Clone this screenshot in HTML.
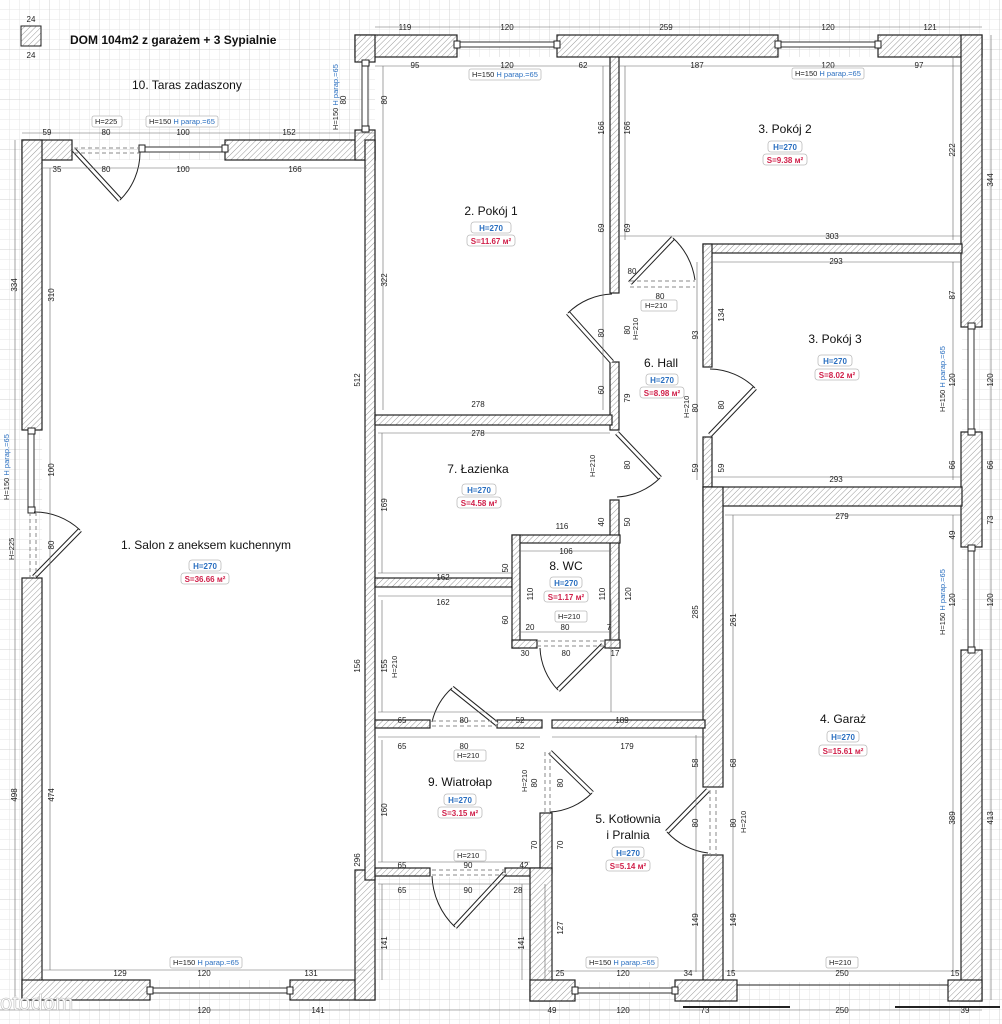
<!DOCTYPE html>
<html><head><meta charset="utf-8">
<style>
html,body{margin:0;padding:0;background:#fff;}
svg{display:block;}
text{font-family:"Liberation Sans",sans-serif;}
.d{font-size:8px;fill:#222;text-anchor:middle;}
.rn{font-size:12px;fill:#111;text-anchor:middle;}
.h{font-size:8px;fill:#2a6fc0;text-anchor:middle;font-weight:bold;}
.s{font-size:8px;fill:#d0204a;text-anchor:middle;font-weight:bold;}
.tag{font-size:7.5px;fill:#222;}
.blue{fill:#2a6fc0;}
</style></head><body>
<svg width="1002" height="1024" viewBox="0 0 1002 1024" xmlns="http://www.w3.org/2000/svg">
<defs>
<pattern id="g" width="10" height="10" patternUnits="userSpaceOnUse"><path d="M10 0V10M0 10H10" stroke="#e6e6e6" stroke-width="1" fill="none"/></pattern>
<pattern id="G" width="50" height="50" patternUnits="userSpaceOnUse"><path d="M50 0V50M0 50H50" stroke="#d2d2d2" stroke-width="1" fill="none"/></pattern>
<pattern id="hh" width="4" height="4" patternUnits="userSpaceOnUse" patternTransform="rotate(45)"><rect width="4" height="4" fill="#fff"/><line x1="0" y1="0" x2="0" y2="4" stroke="#999" stroke-width="1"/></pattern>
</defs>
<rect width="1002" height="1024" fill="#fff"/>
<rect width="1002" height="1024" fill="url(#g)"/>
<rect width="1002" height="1024" fill="url(#G)"/>

<!-- room interiors -->
<g fill="#fff">
<rect x="42" y="160" width="325" height="820"/>
<rect x="375" y="57" width="587" height="820"/>
<rect x="548" y="870" width="414" height="112"/>
</g>

<!-- walls -->
<g fill="url(#hh)" stroke="#222" stroke-width="1.2">
<!-- salon exterior -->
<rect x="22" y="140" width="50" height="20"/>
<rect x="225" y="140" width="150" height="20"/>
<rect x="22" y="140" width="20" height="290"/>
<rect x="22" y="578" width="20" height="422"/>
<rect x="22" y="980" width="128" height="20"/>
<rect x="290" y="980" width="85" height="20"/>
<rect x="355" y="870" width="20" height="130"/>
<rect x="355" y="130" width="20" height="30"/>
<rect x="365" y="140" width="10" height="740"/>
<!-- top -->
<rect x="355" y="35" width="102" height="22"/>
<rect x="355" y="35" width="20" height="27"/>
<rect x="557" y="35" width="221" height="22"/>
<rect x="878" y="35" width="104" height="22"/>
<!-- right -->
<rect x="961" y="35" width="21" height="292"/>
<rect x="961" y="432" width="21" height="115"/>
<rect x="961" y="650" width="21" height="351"/>
<!-- interior -->
<rect x="610" y="57" width="9" height="236"/>
<rect x="610" y="362" width="9" height="68"/>
<rect x="610" y="500" width="9" height="148"/>
<rect x="375" y="415" width="237" height="10"/>
<rect x="703" y="244" width="259" height="9"/>
<rect x="703" y="244" width="9" height="123"/>
<rect x="703" y="437" width="9" height="50"/>
<rect x="703" y="487" width="259" height="19"/>
<rect x="703" y="487" width="20" height="300"/>
<rect x="703" y="855" width="20" height="146"/>
<!-- lazienka/wc -->
<rect x="375" y="578" width="137" height="9"/>
<rect x="512" y="535" width="108" height="8"/>
<rect x="512" y="535" width="8" height="113"/>
<rect x="512" y="640" width="25" height="8"/>
<rect x="605" y="640" width="15" height="8"/>
<!-- hall bottom -->
<rect x="375" y="720" width="55" height="8"/>
<rect x="497" y="720" width="45" height="8"/>
<rect x="552" y="720" width="153" height="8"/>
<!-- wiatrolap -->
<rect x="375" y="868" width="55" height="8"/>
<rect x="505" y="868" width="40" height="8"/>
<rect x="540" y="813" width="12" height="60"/>
<rect x="530" y="868" width="22" height="133"/>
<rect x="530" y="980" width="45" height="21"/>
<rect x="675" y="980" width="62" height="21"/>
<rect x="948" y="980" width="34" height="21"/>
</g>

<!-- windows -->
<g fill="#fff" stroke="#333" stroke-width="1">
<rect x="142" y="147" width="83" height="5"/>
<rect x="28" y="432" width="6" height="78"/>
<rect x="150" y="988" width="140" height="5"/>
<rect x="362" y="62" width="6" height="68"/>
<rect x="457" y="42" width="100" height="5"/>
<rect x="778" y="42" width="100" height="5"/>
<rect x="968" y="327" width="6" height="105"/>
<rect x="968" y="547" width="6" height="103"/>
<rect x="575" y="988" width="100" height="5"/>
</g>
<g fill="#fff" stroke="#222" stroke-width="1">
<rect x="139" y="145" width="6" height="7"/><rect x="222" y="145" width="6" height="7"/>
<rect x="28" y="428" width="7" height="6"/><rect x="28" y="507" width="7" height="6"/>
<rect x="147" y="987" width="6" height="7"/><rect x="287" y="987" width="6" height="7"/>
<rect x="362" y="60" width="7" height="6"/><rect x="362" y="126" width="7" height="6"/>
<rect x="454" y="41" width="6" height="7"/><rect x="554" y="41" width="6" height="7"/>
<rect x="775" y="41" width="6" height="7"/><rect x="875" y="41" width="6" height="7"/>
<rect x="968" y="323" width="7" height="6"/><rect x="968" y="429" width="7" height="6"/>
<rect x="968" y="545" width="7" height="6"/><rect x="968" y="647" width="7" height="6"/>
<rect x="572" y="987" width="6" height="7"/><rect x="672" y="987" width="6" height="7"/>
</g>

<!-- doors -->
<g fill="none" stroke="#222" stroke-width="1">
<!-- salon top door -->
<path d="M74 150 L120 200" stroke-width="5"/><path d="M74 150 L120 200" stroke="#fff" stroke-width="3"/>
<path d="M120 200 A67 67 0 0 0 140 152"/>
<path d="M74 148H140M74 153H140" stroke-dasharray="4 3" stroke="#888"/>
<!-- salon left door -->
<path d="M34 577 L80 530" stroke-width="5"/><path d="M34 577 L80 530" stroke="#fff" stroke-width="3"/>
<path d="M34 512 A66 66 0 0 1 80 530"/>
<path d="M30 512V577M36 512V577" stroke-dasharray="4 3" stroke="#888"/>
<!-- pokoj1 door -->
<path d="M612 362 L568 313" stroke-width="5"/><path d="M612 362 L568 313" stroke="#fff" stroke-width="3"/>
<path d="M568 313 A66 66 0 0 1 612 294"/>
<!-- pokoj2 door -->
<path d="M630 283 L673 238" stroke-width="5"/><path d="M630 283 L673 238" stroke="#fff" stroke-width="3"/>
<path d="M673 238 A70 70 0 0 1 695 280"/>
<path d="M630 281H695M630 287H695" stroke-dasharray="4 3" stroke="#888"/>
<!-- lazienka door -->
<path d="M617 433 L660 478" stroke-width="5"/><path d="M617 433 L660 478" stroke="#fff" stroke-width="3"/>
<path d="M660 478 A66 66 0 0 1 617 497"/>
<!-- pokoj3 door -->
<path d="M710 435 L755 388" stroke-width="5"/><path d="M710 435 L755 388" stroke="#fff" stroke-width="3"/>
<path d="M710 369 A66 66 0 0 1 755 388"/>
<!-- wc door -->
<path d="M603 645 L558 690" stroke-width="5"/><path d="M603 645 L558 690" stroke="#fff" stroke-width="3"/>
<path d="M540 648 A64 64 0 0 0 558 690"/>
<path d="M537 641H605M537 646H605" stroke-dasharray="4 3" stroke="#888"/>
<!-- wiatrolap top door -->
<path d="M497 724 L452 688" stroke-width="5"/><path d="M497 724 L452 688" stroke="#fff" stroke-width="3"/>
<path d="M452 688 A66 66 0 0 0 432 722"/>
<path d="M432 721H497M432 726H497" stroke-dasharray="4 3" stroke="#888"/>
<!-- kotlownia door -->
<path d="M550 752 L592 793" stroke-width="5"/><path d="M550 752 L592 793" stroke="#fff" stroke-width="3"/>
<path d="M592 793 A64 64 0 0 1 550 812"/>
<path d="M545 752V813M550 752V813" stroke-dasharray="4 3" stroke="#888"/>
<!-- wiatrolap bottom door -->
<path d="M505 873 L455 927" stroke-width="5"/><path d="M505 873 L455 927" stroke="#fff" stroke-width="3"/>
<path d="M432 876 A74 74 0 0 0 455 927"/>
<path d="M432 870H505M432 875H505" stroke-dasharray="4 3" stroke="#888"/>
<!-- garage side door -->
<path d="M708 790 L667 832" stroke-width="5"/><path d="M708 790 L667 832" stroke="#fff" stroke-width="3"/>
<path d="M667 832 A66 66 0 0 0 708 853"/>
<path d="M710 790V855M716 790V855" stroke-dasharray="4 3" stroke="#888"/>
<!-- garage door -->
<path d="M737 982V1000M948 982V1000M737 985H948"/>
<path d="M683 1007H790M895 1007H1000" stroke-width="2"/>
</g>

<!-- dimension lines (sample) -->
<g stroke="#666" stroke-width="0.6" fill="none">
<path d="M22 133H375M42 168H367M375 27H982M375 66H610M618 66H962M620 236H962M712 262H962M712 477H962M725 515H962M725 971H962M42 970H365M378 433H610M378 573H512M378 596H512M520 551H612M520 632H612M378 712H705M378 737H540M552 737H705M378 862H530M378 884H530M548 971H705M0 1010H982"/>
<path d="M15 140V1000M50 168V970M991 35V1000M953 57V240M953 262V480M953 515V970M383 66V410M603 66V410M625 66V240M382 433V573M382 600V712M382 740V862M382 884V980M522 884V980M545 884V980M696 735V972M733 515V972M611 600V712M697 262V480"/>
</g>

<!-- dimension texts -->
<g class="d">
<text x="31" y="22">24</text><text x="31" y="58">24</text>
<text x="47" y="135">59</text><text x="106" y="135">80</text><text x="183" y="135">100</text><text x="289" y="135">152</text>
<text x="57" y="172">35</text><text x="106" y="172">80</text><text x="183" y="172">100</text><text x="295" y="172">166</text>
<text x="405" y="30">119</text><text x="507" y="30">120</text><text x="666" y="30">259</text><text x="828" y="30">120</text><text x="930" y="30">121</text>
<text x="415" y="68">95</text><text x="507" y="68">120</text><text x="583" y="68">62</text><text x="697" y="68">187</text><text x="828" y="68">120</text><text x="919" y="68">97</text>
<text x="832" y="239">303</text><text x="836" y="264">293</text><text x="836" y="482">293</text><text x="842" y="519">279</text>
<text x="478" y="407">278</text><text x="478" y="436">278</text>
<text x="443" y="580">162</text><text x="443" y="605">162</text><text x="562" y="529">116</text><text x="566" y="554">106</text>
<text x="402" y="723">65</text><text x="464" y="723">80</text><text x="520" y="723">52</text><text x="622" y="723">189</text>
<text x="402" y="749">65</text><text x="464" y="749">80</text><text x="520" y="749">52</text><text x="627" y="749">179</text>
<text x="402" y="868">65</text><text x="468" y="868">90</text><text x="524" y="868">42</text>
<text x="402" y="893">65</text><text x="468" y="893">90</text><text x="518" y="893">28</text>
<text x="120" y="976">129</text><text x="204" y="976">120</text><text x="311" y="976">131</text>
<text x="204" y="1013">120</text><text x="318" y="1013">141</text>
<text x="560" y="976">25</text><text x="623" y="976">120</text><text x="688" y="976">34</text><text x="731" y="976">15</text><text x="842" y="976">250</text><text x="955" y="976">15</text>
<text x="552" y="1013">49</text><text x="623" y="1013">120</text><text x="705" y="1013">73</text><text x="842" y="1013">250</text><text x="965" y="1013">39</text>
<text x="632" y="274">80</text><text x="660" y="299">80</text><text x="565" y="630">80</text><text x="566" y="656">80</text><text x="530" y="630">20</text><text x="525" y="656">30</text><text x="609" y="630">7</text><text x="615" y="656">17</text>
</g>
<g class="d">
<text transform="translate(17,285) rotate(-90)">334</text><text transform="translate(54,295) rotate(-90)">310</text>
<text transform="translate(54,470) rotate(-90)">100</text><text transform="translate(54,545) rotate(-90)">80</text>
<text transform="translate(17,795) rotate(-90)">498</text><text transform="translate(54,795) rotate(-90)">474</text>
<text transform="translate(387,280) rotate(-90)">322</text><text transform="translate(360,380) rotate(-90)">512</text>
<text transform="translate(346,100) rotate(-90)">80</text><text transform="translate(387,100) rotate(-90)">80</text>
<text transform="translate(604,128) rotate(-90)">166</text><text transform="translate(630,128) rotate(-90)">166</text>
<text transform="translate(604,228) rotate(-90)">69</text><text transform="translate(630,228) rotate(-90)">69</text>
<text transform="translate(604,333) rotate(-90)">80</text><text transform="translate(630,330) rotate(-90)">80</text>
<text transform="translate(604,390) rotate(-90)">60</text><text transform="translate(630,398) rotate(-90)">79</text>
<text transform="translate(630,465) rotate(-90)">80</text><text transform="translate(604,522) rotate(-90)">40</text><text transform="translate(630,522) rotate(-90)">50</text>
<text transform="translate(387,505) rotate(-90)">169</text>
<text transform="translate(508,568) rotate(-90)">50</text><text transform="translate(508,620) rotate(-90)">60</text>
<text transform="translate(533,594) rotate(-90)">110</text><text transform="translate(605,594) rotate(-90)">110</text><text transform="translate(631,594) rotate(-90)">120</text>
<text transform="translate(360,666) rotate(-90)">156</text><text transform="translate(387,666) rotate(-90)">155</text>
<text transform="translate(698,612) rotate(-90)">285</text><text transform="translate(736,620) rotate(-90)">261</text>
<text transform="translate(698,335) rotate(-90)">93</text><text transform="translate(724,315) rotate(-90)">134</text>
<text transform="translate(698,468) rotate(-90)">59</text><text transform="translate(724,468) rotate(-90)">59</text>
<text transform="translate(698,408) rotate(-90)">80</text><text transform="translate(724,405) rotate(-90)">80</text>
<text transform="translate(955,150) rotate(-90)">222</text><text transform="translate(993,180) rotate(-90)">344</text>
<text transform="translate(955,295) rotate(-90)">87</text><text transform="translate(955,380) rotate(-90)">120</text><text transform="translate(993,380) rotate(-90)">120</text>
<text transform="translate(955,465) rotate(-90)">66</text><text transform="translate(993,465) rotate(-90)">66</text>
<text transform="translate(955,535) rotate(-90)">49</text><text transform="translate(993,520) rotate(-90)">73</text>
<text transform="translate(955,600) rotate(-90)">120</text><text transform="translate(993,600) rotate(-90)">120</text>
<text transform="translate(955,818) rotate(-90)">389</text><text transform="translate(993,818) rotate(-90)">413</text>
<text transform="translate(698,763) rotate(-90)">58</text><text transform="translate(736,763) rotate(-90)">68</text>
<text transform="translate(698,823) rotate(-90)">80</text><text transform="translate(736,823) rotate(-90)">80</text>
<text transform="translate(698,920) rotate(-90)">149</text><text transform="translate(736,920) rotate(-90)">149</text>
<text transform="translate(387,810) rotate(-90)">160</text><text transform="translate(360,860) rotate(-90)">296</text>
<text transform="translate(537,783) rotate(-90)">80</text><text transform="translate(563,783) rotate(-90)">80</text>
<text transform="translate(537,845) rotate(-90)">70</text><text transform="translate(563,845) rotate(-90)">70</text>
<text transform="translate(387,943) rotate(-90)">141</text><text transform="translate(524,943) rotate(-90)">141</text><text transform="translate(563,928) rotate(-90)">127</text>
</g>

<!-- legend -->
<rect x="21" y="26" width="20" height="20" fill="url(#hh)" stroke="#222"/>
<text x="70" y="44" style="font-size:12px;font-weight:bold;fill:#111">DOM 104m2 z garażem + 3 Sypialnie</text>
<text x="132" y="89" style="font-size:12px;fill:#111">10. Taras zadaszony</text>

<!-- tags -->
<g fill="#fff" stroke="#bbb" stroke-width="0.8">
<rect x="92" y="116" width="30" height="11" rx="2"/>
<rect x="146" y="116" width="72" height="11" rx="2"/>
<rect x="469" y="69" width="72" height="11" rx="2"/>
<rect x="792" y="68" width="72" height="11" rx="2"/>
<rect x="641" y="300" width="36" height="11" rx="2"/>
<rect x="555" y="611" width="32" height="11" rx="2"/>
<rect x="454" y="750" width="32" height="11" rx="2"/>
<rect x="454" y="850" width="32" height="11" rx="2"/>
<rect x="586" y="957" width="72" height="11" rx="2"/>
<rect x="826" y="957" width="32" height="11" rx="2"/>
<rect x="170" y="957" width="72" height="11" rx="2"/>
</g>
<g class="tag">
<text x="95" y="124">H=225</text>
<text x="149" y="124">H=150 <tspan class="blue">H parap.=65</tspan></text>
<text x="472" y="77">H=150 <tspan class="blue">H parap.=65</tspan></text>
<text x="795" y="76">H=150 <tspan class="blue">H parap.=65</tspan></text>
<text x="645" y="308">H=210</text>
<text x="558" y="619">H=210</text>
<text x="457" y="758">H=210</text>
<text x="457" y="858">H=210</text>
<text x="589" y="965">H=150 <tspan class="blue">H parap.=65</tspan></text>
<text x="829" y="965">H=210</text>
<text x="173" y="965">H=150 <tspan class="blue">H parap.=65</tspan></text>
<text transform="translate(338,130) rotate(-90)">H=150 <tspan class="blue">H parap.=65</tspan></text>
<text transform="translate(9,500) rotate(-90)">H=150 <tspan class="blue">H parap.=65</tspan></text>
<text transform="translate(14,560) rotate(-90)">H=225</text>
<text transform="translate(945,412) rotate(-90)">H=150 <tspan class="blue">H parap.=65</tspan></text>
<text transform="translate(945,635) rotate(-90)">H=150 <tspan class="blue">H parap.=65</tspan></text>
<text transform="translate(638,340) rotate(-90)">H=210</text>
<text transform="translate(595,477) rotate(-90)">H=210</text>
<text transform="translate(689,418) rotate(-90)">H=210</text>
<text transform="translate(397,678) rotate(-90)">H=210</text>
<text transform="translate(527,792) rotate(-90)">H=210</text>
<text transform="translate(746,833) rotate(-90)">H=210</text>
</g>

<!-- room labels -->
<g>
<text class="rn" x="491" y="215">2. Pokój 1</text>
<rect x="471" y="222" width="40" height="11" rx="3" fill="#fff" stroke="#bbb" stroke-width="0.8"/><text class="h" x="491" y="231">H=270</text>
<rect x="467" y="235" width="48" height="11" rx="3" fill="#fff" stroke="#bbb" stroke-width="0.8"/><text class="s" x="491" y="244">S=11.67 м²</text>
<text class="rn" x="785" y="133">3. Pokój 2</text>
<rect x="768" y="141" width="34" height="11" rx="3" fill="#fff" stroke="#bbb" stroke-width="0.8"/><text class="h" x="785" y="150">H=270</text>
<rect x="763" y="154" width="44" height="11" rx="3" fill="#fff" stroke="#bbb" stroke-width="0.8"/><text class="s" x="785" y="163">S=9.38 м²</text>
<text class="rn" x="835" y="343">3. Pokój 3</text>
<rect x="818" y="355" width="34" height="11" rx="3" fill="#fff" stroke="#bbb" stroke-width="0.8"/><text class="h" x="835" y="364">H=270</text>
<rect x="815" y="369" width="44" height="11" rx="3" fill="#fff" stroke="#bbb" stroke-width="0.8"/><text class="s" x="837" y="378">S=8.02 м²</text>
<text class="rn" x="661" y="367">6. Hall</text>
<rect x="646" y="374" width="32" height="11" rx="3" fill="#fff" stroke="#bbb" stroke-width="0.8"/><text class="h" x="662" y="383">H=270</text>
<rect x="640" y="387" width="44" height="11" rx="3" fill="#fff" stroke="#bbb" stroke-width="0.8"/><text class="s" x="662" y="396">S=8.98 м²</text>
<text class="rn" x="478" y="473">7. Łazienka</text>
<rect x="462" y="484" width="34" height="11" rx="3" fill="#fff" stroke="#bbb" stroke-width="0.8"/><text class="h" x="479" y="493">H=270</text>
<rect x="457" y="497" width="44" height="11" rx="3" fill="#fff" stroke="#bbb" stroke-width="0.8"/><text class="s" x="479" y="506">S=4.58 м²</text>
<text class="rn" x="566" y="570">8. WC</text>
<rect x="550" y="577" width="32" height="11" rx="3" fill="#fff" stroke="#bbb" stroke-width="0.8"/><text class="h" x="566" y="586">H=270</text>
<rect x="544" y="591" width="44" height="11" rx="3" fill="#fff" stroke="#bbb" stroke-width="0.8"/><text class="s" x="566" y="600">S=1.17 м²</text>
<text class="rn" x="206" y="549">1. Salon z aneksem kuchennym</text>
<rect x="189" y="560" width="32" height="11" rx="3" fill="#fff" stroke="#bbb" stroke-width="0.8"/><text class="h" x="205" y="569">H=270</text>
<rect x="181" y="573" width="48" height="11" rx="3" fill="#fff" stroke="#bbb" stroke-width="0.8"/><text class="s" x="205" y="582">S=36.66 м²</text>
<text class="rn" x="843" y="723">4. Garaż</text>
<rect x="827" y="731" width="32" height="11" rx="3" fill="#fff" stroke="#bbb" stroke-width="0.8"/><text class="h" x="843" y="740">H=270</text>
<rect x="819" y="745" width="48" height="11" rx="3" fill="#fff" stroke="#bbb" stroke-width="0.8"/><text class="s" x="843" y="754">S=15.61 м²</text>
<text class="rn" x="460" y="786">9. Wiatrołap</text>
<rect x="444" y="794" width="32" height="11" rx="3" fill="#fff" stroke="#bbb" stroke-width="0.8"/><text class="h" x="460" y="803">H=270</text>
<rect x="438" y="807" width="44" height="11" rx="3" fill="#fff" stroke="#bbb" stroke-width="0.8"/><text class="s" x="460" y="816">S=3.15 м²</text>
<text class="rn" x="628" y="823">5. Kotłownia</text>
<text class="rn" x="628" y="839">i Pralnia</text>
<rect x="612" y="847" width="32" height="11" rx="3" fill="#fff" stroke="#bbb" stroke-width="0.8"/><text class="h" x="628" y="856">H=270</text>
<rect x="606" y="860" width="44" height="11" rx="3" fill="#fff" stroke="#bbb" stroke-width="0.8"/><text class="s" x="628" y="869">S=5.14 м²</text>
</g>
<text x="0" y="1010" style="font-size:22px;fill:#fff;stroke:#bbb;stroke-width:0.6">otodom</text>
</svg>
</body></html>
